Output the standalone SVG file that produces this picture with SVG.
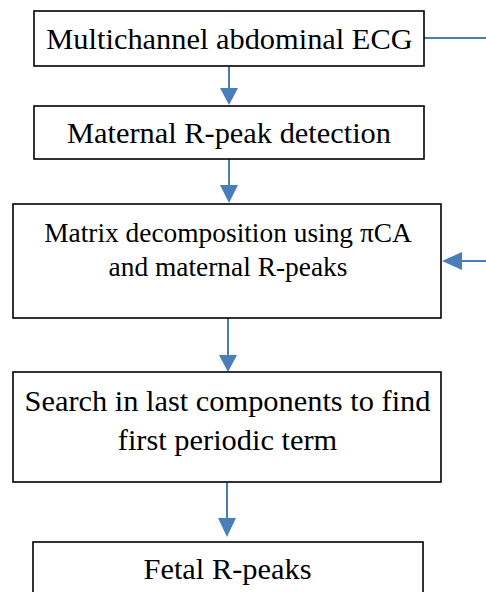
<svg xmlns="http://www.w3.org/2000/svg" width="486" height="592" viewBox="0 0 486 592">
<style>
.box{fill:#fff;stroke:#000;stroke-width:1.6}
text{font-family:'Liberation Serif','Times New Roman',serif;font-size:30.4px;fill:#000;text-anchor:middle}
.t2{font-size:27.4px}
.c{stroke:#4a7ebb;stroke-width:2;fill:none}
.h{fill:#4a7ebb}
</style>
<rect width="486" height="592" fill="#fff"/>
<g id="connectors">
<line class="c" x1="229" y1="66" x2="229" y2="90"/>
<polygon class="h" points="220,88 238,88 229,105"/>
<line class="c" x1="229" y1="159" x2="229" y2="187"/>
<polygon class="h" points="220,185 238,185 229,203"/>
<line class="c" x1="228" y1="318" x2="228" y2="357"/>
<polygon class="h" points="219,355 237,355 228,372"/>
<line class="c" x1="227" y1="482" x2="227" y2="520"/>
<polygon class="h" points="218,518 236,518 227,537"/>
<line class="c" x1="424" y1="38" x2="486" y2="38"/>
<line class="c" x1="486" y1="261" x2="460" y2="261"/>
<polygon class="h" points="462,252 462,270 442,261"/>
</g>
<g id="n1">
<rect class="box" x="34" y="11" width="390" height="55"/>
<text x="229.5" y="49">Multichannel abdominal ECG</text>
</g>
<g id="n2">
<rect class="box" x="34" y="106" width="390" height="53"/>
<text x="229" y="143">Maternal R-peak detection</text>
</g>
<g id="n3">
<rect class="box" x="13" y="204" width="428" height="114"/>
<text class="t2" x="228" y="242">Matrix decomposition using πCA</text>
<text class="t2" x="228" y="276">and maternal R-peaks</text>
</g>
<g id="n4">
<rect class="box" x="13" y="372" width="428" height="110"/>
<text x="227.5" y="411">Search in last components to find</text>
<text x="227.5" y="450">first periodic term</text>
</g>
<g id="n5">
<rect class="box" x="33" y="542" width="390" height="60"/>
<text x="227.5" y="579">Fetal R-peaks</text>
</g>
</svg>
